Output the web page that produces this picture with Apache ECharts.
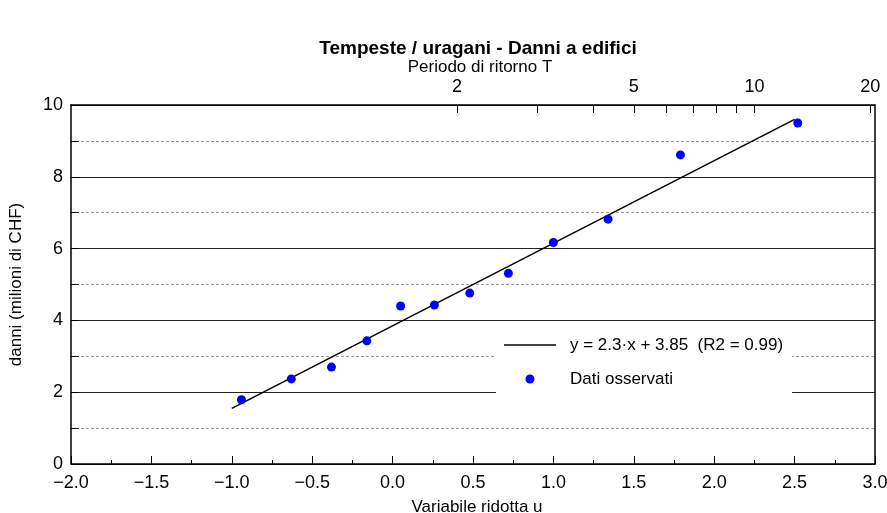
<!DOCTYPE html>
<html>
<head>
<meta charset="utf-8">
<script src="https://cdn.jsdelivr.net/npm/echarts@6/dist/echarts.min.js"></script>
<style>
html,body{margin:0;padding:0;background:#fff;}
#chart{width:887px;height:513px;}
</style>
</head>
<body>
<div id="chart"></div>
<script>
// Reduced variate u (x) of the observed data
var obsU = [-0.94, -0.63, -0.38, -0.16, 0.05, 0.26, 0.48, 0.72, 1.00, 1.34, 1.79, 2.52];
// Damage (millions CHF)
var obsY = [1.79, 2.37, 2.70, 3.43, 4.40, 4.43, 4.76, 5.31, 6.17, 6.82, 8.61, 9.50];
// Regression line end points
var fitU = [-1.0, 2.5];
var fitY = [1.55, 9.60];
// Return period top axis: periods and their positions on the u scale
var periodT = [2, 3, 4, 5, 6, 7, 8, 9, 10, 20];
var periodU = [0.40, 0.90, 1.25, 1.50, 1.70, 1.87, 2.01, 2.14, 2.25, 2.97];
var periodLabelT = [2, 5, 10, 20];

var FONT = '"Liberation Sans", Arial, Helvetica, sans-serif';
function minus(s){ return String(s).replace('-', '\u2212'); }

var labelU = periodLabelT.map(function(t){ return periodU[periodT.indexOf(t)]; });

var chart = echarts.init(document.getElementById('chart'), null, {renderer:'canvas'});
chart.setOption({
  animation: false,
  backgroundColor: '#fff',
  textStyle: {fontFamily: FONT},
  title: [
    {
      text: 'Tempeste / uragani - Danni a edifici',
      left: 478, top: 39, textAlign: 'center', padding: 0,
      textStyle: {fontFamily: FONT, fontSize: 19, fontWeight: 'bold', color: '#000'}
    },
    {
      text: 'Periodo di ritorno T',
      left: 480, top: 59, textAlign: 'center', padding: 0,
      textStyle: {fontFamily: FONT, fontSize: 17, fontWeight: 'normal', color: '#000'}
    }
  ],
  grid: {left: 71, right: 12, top: 105, bottom: 49, containLabel: false, outerBoundsMode: 'none'},
  legend: {
    orient: 'vertical',
    left: 496, top: 324,
    padding: [11, 9, 10, 8],
    backgroundColor: '#fff',
    itemWidth: 52, itemHeight: 9, itemGap: 14,
    textStyle: {fontFamily: FONT, fontSize: 17, color: '#000', lineHeight: 20, padding: [0,0,0,9]},
    data: [
      {name: 'y = 2.3\u00b7x + 3.85  (R2 = 0.99)', icon: 'path://M0,0L52,0L52,1.6L0,1.6Z'},
      {name: 'Dati osservati', icon: 'circle'}
    ]
  },
  xAxis: [
    {
      type: 'value', position: 'bottom', min: -2, max: 3, interval: 0.5,
      name: 'Variabile ridotta u', nameLocation: 'middle', nameGap: 35,
      nameTextStyle: {fontFamily: FONT, fontSize: 17, color: '#000', padding: [0, 0, 0, 8]},
      axisLine: {show: true, onZero: false, lineStyle: {color: '#000', width: 1.5}},
      axisTick: {show: true, inside: true, length: 8, lineStyle: {color: '#000', width: 1}},
      minorTick: {show: true, splitNumber: 2, length: 4, lineStyle: {color: '#000', width: 1}},
      axisLabel: {fontFamily: FONT, fontSize: 18, color: '#000', margin: 10,
        formatter: function(v){ return minus(v.toFixed(1)); }},
      splitLine: {show: false}
    },
    {
      type: 'value', position: 'top', min: -2, max: 3,
      axisLine: {show: true, onZero: false, lineStyle: {color: '#000', width: 1.5}},
      axisTick: {show: true, inside: true, length: 8, customValues: periodU, lineStyle: {color: '#000', width: 1}},
      axisLabel: {show: true, fontFamily: FONT, fontSize: 18, color: '#000', margin: 9,
        customValues: labelU,
        formatter: function(v){
          var i = periodU.indexOf(v);
          return i >= 0 ? String(periodT[i]) : '';
        }},
      splitLine: {show: false}
    }
  ],
  yAxis: [
    {
      type: 'value', position: 'left', min: 0, max: 10, interval: 2,
      name: 'danni (milioni di CHF)', nameLocation: 'middle', nameGap: 46, nameRotate: 90,
      nameTextStyle: {fontFamily: FONT, fontSize: 17, color: '#000'},
      axisLine: {show: true, onZero: false, lineStyle: {color: '#000', width: 1.5}},
      axisTick: {show: true, inside: true, length: 8, lineStyle: {color: '#000', width: 1}},
      minorTick: {show: true, splitNumber: 2, length: 8, lineStyle: {color: '#000', width: 1}},
      axisLabel: {fontFamily: FONT, fontSize: 18, color: '#000', margin: 8},
      splitLine: {show: true, lineStyle: {color: '#222', width: 1}},
      minorSplitLine: {show: true, lineStyle: {color: '#999', width: 1, type: [3, 2]}}
    },
    {
      type: 'value', position: 'right', min: 0, max: 10,
      axisLine: {show: true, onZero: false, lineStyle: {color: '#000', width: 1.5}},
      axisTick: {show: false}, axisLabel: {show: false}, splitLine: {show: false}
    }
  ],
  series: [
    {
      name: 'y = 2.3\u00b7x + 3.85  (R2 = 0.99)',
      type: 'line', xAxisIndex: 0, yAxisIndex: 0,
      data: fitU.map(function(u, i){ return [u, fitY[i]]; }),
      symbol: 'none', lineStyle: {color: '#000', width: 1.5},
      itemStyle: {color: '#000'}, z: 3
    },
    {
      name: 'Dati osservati',
      type: 'scatter', xAxisIndex: 0, yAxisIndex: 0,
      data: obsU.map(function(u, i){ return [u, obsY[i]]; }),
      symbol: 'circle', symbolSize: 9,
      itemStyle: {color: '#0000ff', opacity: 1}, z: 4
    }
  ]
});
</script>
</body>
</html>
